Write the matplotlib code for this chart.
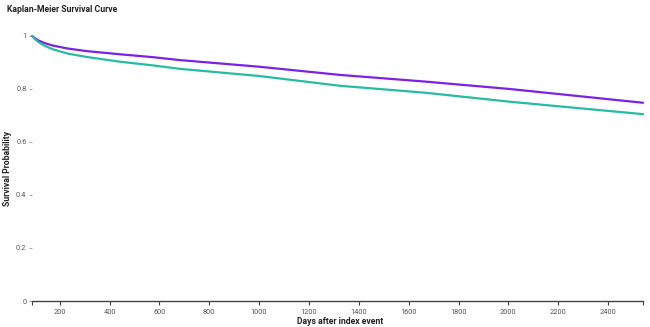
import matplotlib
matplotlib.use("Agg")
import matplotlib.pyplot as plt

# survival estimates
days = [90, 100, 115, 140, 172, 230, 307, 441, 574, 682, 1000, 1325, 1665, 2005, 2540]
surv_purple = [1.0, 0.992, 0.983, 0.973, 0.964, 0.953, 0.943, 0.931, 0.920, 0.909, 0.884, 0.853, 0.828, 0.800, 0.748]
surv_teal = [1.0, 0.989, 0.977, 0.963, 0.950, 0.934, 0.921, 0.903, 0.889, 0.876, 0.849, 0.812, 0.786, 0.752, 0.705]

x_ticks = [200, 400, 600, 800, 1000, 1200, 1400, 1600, 1800, 2000, 2200, 2400]
y_ticks = [0, 0.2, 0.4, 0.6, 0.8, 1]
y_tick_labels = ["0", "0.2", "0.4", "0.6", "0.8", "1"]

plt.rcParams['font.family'] = ['Roboto', 'DejaVu Sans']

fig = plt.figure(figsize=(6.5, 3.27), dpi=100)
ax = fig.add_axes([0.0492, 0.0795, 0.9400, 0.8105])

ax.plot(days, surv_purple, color="#7b22e4", lw=1.6, clip_on=False, solid_capstyle="round")
ax.plot(days, surv_teal, color="#27bca2", lw=1.6, clip_on=False, solid_capstyle="round")

ax.set_xlim(89, 2540)
ax.set_ylim(0, 1)

for s in ["top", "right", "left"]:
    ax.spines[s].set_visible(False)
ax.spines["bottom"].set_color("#444444")
ax.spines["bottom"].set_linewidth(1.0)

ax.set_xticks([89] + x_ticks + [2540])
ax.set_xticklabels([""] + [str(t) for t in x_ticks] + [""])
ax.set_yticks(y_ticks)
ax.set_yticklabels(y_tick_labels)
ax.tick_params(axis="x", length=3, width=0.8, color="#444444", labelsize=5.3,
               labelcolor="#555555", pad=3)
ax.tick_params(axis="y", length=2, width=0.6, color="#999999", labelsize=5.3,
               labelcolor="#555555", pad=2)

fig.text(0.011, 0.97, "Kaplan-Meier Survival Curve", fontsize=6.2, fontweight="bold",
         color="#222222", ha="left", va="center")
fig.text(0.523, 0.017, "Days after index event", fontsize=6.2, fontweight="bold",
         color="#222222", ha="center", va="center")
fig.text(0.011, 0.485, "Survival Probability", fontsize=6.2, fontweight="bold",
         color="#222222", ha="center", va="center", rotation=90)

fig.savefig("out.png", dpi=100)
